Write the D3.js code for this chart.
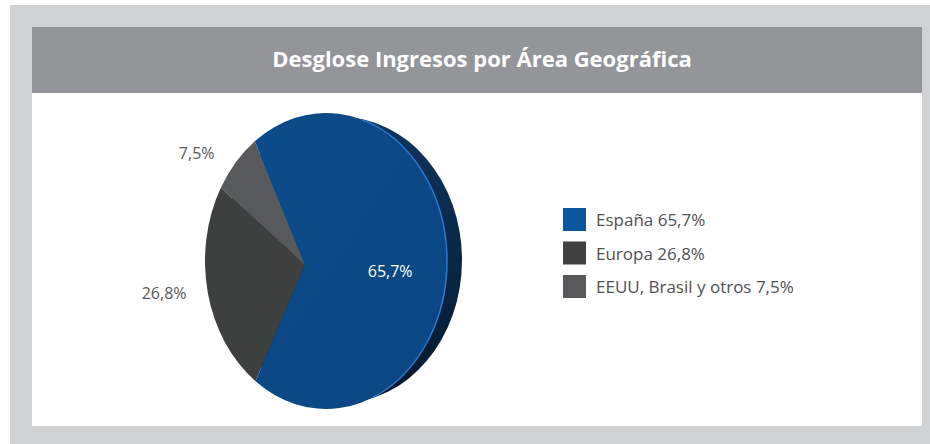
<!DOCTYPE html>
<html>
<head>
<meta charset="utf-8">
<script src="https://cdn.jsdelivr.net/npm/d3@7/dist/d3.min.js"></script>
<style>
  body { margin: 0; background: #fff; }
  text { font-family: "Open Sans", Lato, sans-serif; }
</style>
</head>
<body>
<script>
// Data
const title = "Desglose Ingresos por Área Geográfica";
const categories = ["España", "Europa", "EEUU, Brasil y otros"];
const values = [65.7, 26.8, 7.5];
const valueLabels = ["65,7%", "26,8%", "7,5%"];
const sliceColors = ["#0b4a87", "#3e3f3f", "#58595a"];
const legendColors = ["#0a569c", "#414142", "#59595b"];

const W = 930, H = 444;

const svg = d3.select("body").append("svg")
  .attr("width", W)
  .attr("height", H);

// frame
svg.append("rect").attr("x", 10).attr("y", 5).attr("width", W - 10).attr("height", H - 5).attr("fill", "#d1d2d4");
svg.append("rect").attr("x", 32).attr("y", 27).attr("width", 890).attr("height", 399).attr("fill", "#fff");
svg.append("rect").attr("x", 32).attr("y", 27).attr("width", 890).attr("height", 66).attr("fill", "#939598");

svg.append("text")
  .attr("x", 482).attr("y", 67)
  .attr("text-anchor", "middle")
  .attr("fill", "#fff")
  .attr("font-size", 22)
  .attr("font-weight", 700)
  .text(title);

// pie geometry: tilted disc seen in perspective -> ellipse face,
// apex a bit left of centre, far (left) side a little compressed
const cx = 326, cy = 261, rx = 121, ry = 148;
const apex = [305, 265];
const depth = 15;
const squeeze = 0.15;

// d3 angle (clockwise from 12 o'clock) -> warped math angle on the ellipse
const warp = a => {
  const t = Math.PI / 2 - a;
  return t + squeeze * Math.sin(t);
};
const pt = a => {
  const t = warp(a);
  return [cx + rx * Math.cos(t), cy - ry * Math.sin(t)];
};

const pie = d3.pie().sort(null)
  .startAngle(-28.5 * Math.PI / 180)
  .endAngle(331.5 * Math.PI / 180);
const arcs = pie(values);

const defs = svg.append("defs");
const sideGrad = defs.append("linearGradient").attr("id", "side")
  .attr("x1", 0).attr("y1", 0).attr("x2", 0).attr("y2", 1);
sideGrad.append("stop").attr("offset", "0%").attr("stop-color", "#0e3561");
sideGrad.append("stop").attr("offset", "100%").attr("stop-color", "#05182c");

const faceGrad = defs.append("linearGradient").attr("id", "face")
  .attr("x1", 0).attr("y1", 0).attr("x2", 1).attr("y2", 1);
faceGrad.append("stop").attr("offset", "0%").attr("stop-color", "#0c4b89");
faceGrad.append("stop").attr("offset", "100%").attr("stop-color", "#0a4683");

// side wall
svg.append("ellipse")
  .attr("cx", cx + depth).attr("cy", cy - 1)
  .attr("rx", rx).attr("ry", ry - 5)
  .attr("fill", "url(#side)");

function slicePath(d) {
  const p0 = pt(d.startAngle), p1 = pt(d.endAngle);
  const large = warp(d.startAngle) - warp(d.endAngle) > Math.PI ? 1 : 0;
  return `M${apex[0]},${apex[1]}L${p0[0]},${p0[1]}A${rx},${ry} 0 ${large} 1 ${p1[0]},${p1[1]}Z`;
}

svg.selectAll("path.slice")
  .data(arcs)
  .enter().append("path")
  .attr("class", "slice")
  .attr("d", slicePath)
  .attr("fill", (d, i) => i === 0 ? "url(#face)" : sliceColors[i]);

// light rim on the right edge of the face
const r0 = pt(25 * Math.PI / 180), r1 = pt(150 * Math.PI / 180);
svg.append("path")
  .attr("d", `M${r0[0]},${r0[1]}A${rx},${ry} 0 0 1 ${r1[0]},${r1[1]}`)
  .attr("fill", "none")
  .attr("stroke", "#2a7ad8")
  .attr("stroke-width", 1.5);

// value labels
arcs.forEach((d, i) => {
  const mid = (d.startAngle + d.endAngle) / 2;
  const p = pt(mid);
  if (i === 0) {
    svg.append("text")
      .attr("x", apex[0] + 0.6 * (p[0] - apex[0]))
      .attr("y", apex[1] + 0.6 * (p[1] - apex[1]) + 9)
      .attr("dy", "0.35em")
      .attr("text-anchor", "middle")
      .attr("fill", "#fff")
      .attr("font-size", 16)
      .text(valueLabels[i]);
  } else {
    const t = warp(mid);
    svg.append("text")
      .attr("x", p[0] - 21)
      .attr("y", p[1] - 14 * Math.sin(t))
      .attr("dy", "0.35em")
      .attr("text-anchor", "end")
      .attr("fill", "#58595b")
      .attr("font-size", 16)
      .text(valueLabels[i]);
  }
});

// legend
const legend = svg.append("g").attr("transform", "translate(563,208)");
const rows = legend.selectAll("g")
  .data(categories)
  .enter().append("g")
  .attr("transform", (d, i) => `translate(0,${i * 33.5})`);
rows.append("rect")
  .attr("width", 23).attr("height", 23)
  .attr("fill", (d, i) => legendColors[i]);
rows.append("text")
  .attr("x", 33).attr("y", 18)
  .attr("fill", "#505052")
  .attr("font-size", 17)
  .text((d, i) => `${d} ${valueLabels[i]}`);
</script>
</body>
</html>
